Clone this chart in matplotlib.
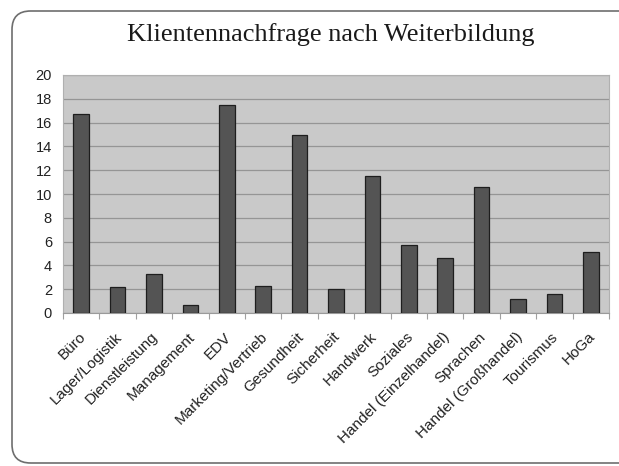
import matplotlib
matplotlib.use("Agg")
import matplotlib.pyplot as plt
from matplotlib.patches import FancyBboxPatch
import matplotlib.transforms as mtrans
import numpy as np

categories = ["Büro", "Lager/Logistik", "Dienstleistung", "Management", "EDV",
              "Marketing/Vertrieb", "Gesundheit", "Sicherheit", "Handwerk", "Soziales",
              "Handel (Einzelhandel)", "Sprachen", "Handel (Großhandel)", "Tourismus", "HoGa"]
values = [16.7, 2.2, 3.3, 0.7, 17.5, 2.3, 15.0, 2.0, 11.5, 5.7, 4.6, 10.6, 1.2, 1.6, 5.1]
yticks = [0, 2, 4, 6, 8, 10, 12, 14, 16, 18, 20]
title = "Klientennachfrage nach Weiterbildung"

W, H = 619, 466
fig = plt.figure(figsize=(W/100, H/100), dpi=100)
fig.patch.set_facecolor("white")

# rounded frame
frame = FancyBboxPatch((12/W, 3/H), (W+20-12)/W, (455-3)/H,
                       boxstyle="round,pad=0,rounding_size=0.03",
                       transform=fig.transFigure, facecolor="none",
                       edgecolor="#6e6e6e", linewidth=1.2, mutation_aspect=W/H)
fig.patches.append(frame)

fig.text(331/W, 1-35/H, title, ha="center", va="center",
         fontsize=19, family="Liberation Serif", color="#1a1a1a")

left, right, top, bottom = 63, 609, 75, 313
ax = fig.add_axes([left/W, 1-bottom/H, (right-left)/W, (bottom-top)/H])
ax.set_facecolor("#c9c9c9")
x = np.arange(len(categories))
ax.bar(x, values, width=0.43, color="#545454", edgecolor="#1e1e1e", linewidth=0.9, zorder=3)
ax.set_xlim(-0.5, len(categories)-0.5)
ax.set_ylim(0, 20)
ax.set_yticks(yticks)
ax.set_yticklabels([str(t) for t in yticks], fontsize=10.5, family="Liberation Sans", color="#222222")
ax.yaxis.grid(True, color="#959595", linewidth=0.9, zorder=1)
ax.tick_params(axis="y", length=0, pad=8)
ax.set_xticks(np.arange(len(categories)+1)-0.5, minor=False)
ax.set_xticklabels([])
ax.tick_params(axis="x", length=4, color="#a0a0a0", direction="out")
ax.set_xticks(x, minor=True)
ax.set_xticklabels(categories, minor=True, rotation=45, ha="right", rotation_mode="anchor",
                   fontsize=11, family="Liberation Sans", color="#222222")
ax.tick_params(axis="x", which="minor", length=0, pad=12)
off = mtrans.ScaledTranslation(-3/100, 0, fig.dpi_scale_trans)
for lab in ax.get_xticklabels(minor=True):
    lab.set_transform(lab.get_transform() + off)
for s in ["top", "right", "left"]:
    ax.spines[s].set_color("#b0b0b0")
    ax.spines[s].set_linewidth(0.8)
ax.spines["bottom"].set_color("#9a9a9a")

fig.savefig("out.png", dpi=100)
